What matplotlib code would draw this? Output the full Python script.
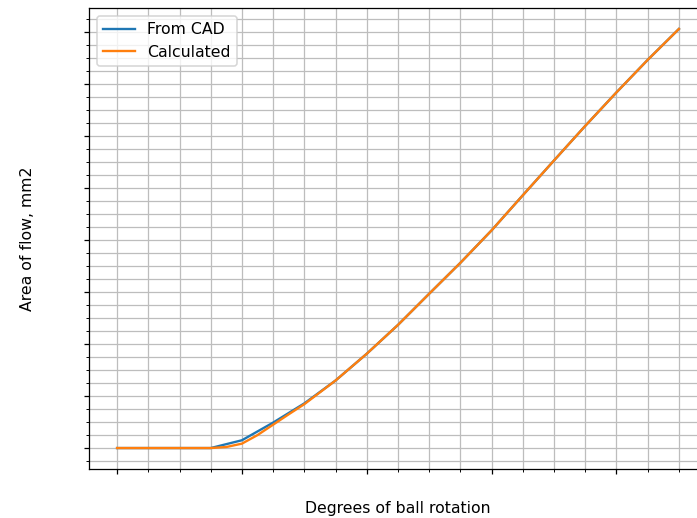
import numpy as np
import matplotlib
matplotlib.use("Agg")
import matplotlib.pyplot as plt
from matplotlib.ticker import MultipleLocator

# degrees of ball rotation
cad_deg = [0, 5, 10, 15, 20, 25, 30, 35, 40, 45, 50, 55, 60, 65, 70, 75, 80, 85, 90]
cad_area = [0, 0, 0, 0, 3.0, 9.8, 17.2, 26.0, 36.3, 47.4, 59.4, 71.3, 83.8, 97.3,
            110.7, 124.0, 136.9, 149.4, 161.3]

calc_deg = [0, 5, 10, 15, 17.5, 20, 22.5, 25, 27.5, 30, 35, 40, 45, 50, 55, 60, 65,
            70, 75, 80, 85, 90]
calc_area = [0, 0, 0, 0, 0.4, 1.7, 5.0, 9.0, 13.0, 16.9, 26.0, 36.3, 47.4, 59.4, 71.3,
             83.8, 97.3, 110.7, 124.0, 136.9, 149.4, 161.3]

DPI = 113
fig = plt.figure(figsize=(697 / DPI, 518 / DPI), dpi=DPI)
ax = fig.add_axes([89 / 697, 49 / 518, 618 / 697, 461 / 518])

ax.plot(cad_deg, cad_area, label="From CAD", color="tab:blue")
ax.plot(calc_deg, calc_area, label="Calculated", color="tab:orange")

ax.xaxis.set_major_locator(MultipleLocator(20))
ax.xaxis.set_minor_locator(MultipleLocator(5))
ax.yaxis.set_major_locator(MultipleLocator(20))
ax.yaxis.set_minor_locator(MultipleLocator(5))
ax.grid(which="both", color="#bdbdbd", linewidth=0.8)

# tick labels were rendered in white
ax.tick_params(which="both", labelcolor="white")

ax.set_xlabel("Degrees of ball rotation")
ax.set_ylabel("Area of flow, mm2")
ax.xaxis.set_label_coords(0.5, -0.069)
ax.yaxis.set_label_coords(-0.088, 0.5)

ax.legend(loc="upper left")

fig.savefig("out.png", dpi=DPI)
